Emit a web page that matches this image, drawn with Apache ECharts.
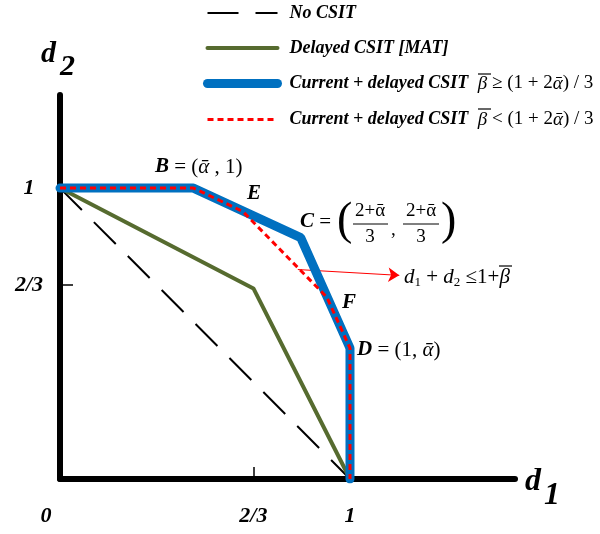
<!DOCTYPE html>
<html>
<head>
<meta charset="utf-8">
<script src="https://cdn.jsdelivr.net/npm/echarts@6/dist/echarts.min.js"></script>
<style>
  html, body { margin: 0; padding: 0; background: #fff; }
  #chart { width: 600px; height: 534px; }
</style>
</head>
<body>
<div id="chart"></div>
<script>
// regions (d1, d2)
var noCsit = [[0, 1], [1, 0]]
var delayedMat = [[0, 1], [0.667, 0.655], [1, 0]]
var currentHigh = [[0, 1], [0.46, 1], [0.83, 0.83], [1, 0.45], [1, 0]]
var currentLow = [[0, 1], [0.46, 1], [0.63, 0.92], [0.92, 0.625], [1, 0.45], [1, 0]]
var arrowCoords = [[0.82, 0.72], [1.17, 0.70]]

var xTicks = [0, 2 / 3, 1]
var xTickLabels = ['0', '2/3', '1']
var yTicks = [2 / 3, 1]
var yTickLabels = ['2/3', '1']

var seriesNames = [
  'No CSIT',
  'Delayed CSIT [MAT]',
  'Current + delayed CSIT β̄ ≥ (1+2ᾱ)/3',
  'Current + delayed CSIT β̄ < (1+2ᾱ)/3'
]

var FONT = 'Liberation Serif'

function tickLabel (values, labels, v) {
  for (var i = 0; i < values.length; i++) {
    if (Math.abs(values[i] - v) < 1e-6) return labels[i]
  }
  return ''
}

// rich styles shared by the annotations
var richMath = {
  b: { fontFamily: FONT, fontSize: 21, fontWeight: 'bold', fontStyle: 'italic', color: '#000' },
  r: { fontFamily: FONT, fontSize: 21, color: '#000' },
  g: { fontFamily: FONT, fontSize: 21, fontStyle: 'italic', color: '#000' },
  i: { fontFamily: FONT, fontSize: 21, fontStyle: 'italic', color: '#000' },
  s: { fontFamily: FONT, fontSize: 13, color: '#000', padding: [12, 0, 0, 0] }
}

function txt (x, y, text, extra) {
  var style = { x: x, y: y, text: text, rich: richMath, verticalAlign: 'middle', fill: '#000',
    fontFamily: FONT, fontSize: 20 }
  for (var k in extra) style[k] = extra[k]
  return { type: 'text', style: style, z: 100 }
}

// overline bar for beta (the combining macron does not render well)
function bar (x1, x2, y) {
  return { type: 'line', shape: { x1: x1, y1: y, x2: x2, y2: y }, style: { stroke: '#000', lineWidth: 1.2 }, z: 100 }
}

var chart = echarts.init(document.getElementById('chart'))

var option = {
  animation: false,
  backgroundColor: '#fff',
  grid: { left: 60, right: 85, top: 95, bottom: 55, containLabel: false, outerBoundsMode: 'none' },
  legend: {
    orient: 'vertical',
    left: 198,
    top: -1,
    itemWidth: 70,
    itemHeight: 20,
    itemGap: 17,
    selectedMode: false,
    itemStyle: { opacity: 0 },
    data: [
      { name: seriesNames[0], lineStyle: { width: 2 } },
      { name: seriesNames[1], lineStyle: { width: 4, cap: 'round' } },
      { name: seriesNames[2], lineStyle: { width: 9, cap: 'round' } },
      { name: seriesNames[3], lineStyle: { width: 3 } }
    ],
    formatter: function (name) {
      var i = seriesNames.indexOf(name)
      if (i === 0) return '{sp|}{b|No CSIT}'
      if (i === 1) return '{sp|}{b|Delayed CSIT [MAT]}'
      var rel = i === 2 ? ' ≥ ' : ' < '
      return '{sp|}{b|Current + delayed CSIT}{m|  }{g|β}{m|' + rel + '(1 + 2}{g|ᾱ}{m|) / 3}'
    },
    textStyle: {
      color: '#000',
      rich: {
        sp: { width: 7 },
        b: { fontFamily: FONT, fontSize: 18, fontWeight: 'bold', fontStyle: 'italic', color: '#000', lineHeight: 23 },
        m: { fontFamily: FONT, fontSize: 19, color: '#000', lineHeight: 23 },
        g: { fontFamily: FONT, fontSize: 19, fontStyle: 'italic', color: '#000', lineHeight: 23 }
      }
    }
  },
  xAxis: {
    type: 'value',
    min: 0,
    max: 1.569,
    splitLine: { show: false },
    axisLine: { show: true, lineStyle: { color: '#000', width: 6, cap: 'round' } },
    axisTick: { show: true, inside: true, length: 12, customValues: [2 / 3], lineStyle: { color: '#000', width: 1.5 } },
    axisLabel: {
      customValues: xTicks,
      margin: 26,
      formatter: function (v) {
        var s = tickLabel(xTicks, xTickLabels, v)
        return v === 0 ? '{z|' + s + '}' : '{t|' + s + '}'
      },
      rich: {
        t: { fontFamily: FONT, fontSize: 22, fontWeight: 'bold', fontStyle: 'italic', color: '#000' },
        z: { fontFamily: FONT, fontSize: 22, fontWeight: 'bold', fontStyle: 'italic', color: '#000', padding: [0, 28, 0, 0] }
      }
    }
  },
  yAxis: {
    type: 'value',
    min: 0,
    max: 1.32,
    splitLine: { show: false },
    axisLine: { show: true, lineStyle: { color: '#000', width: 6, cap: 'round' } },
    axisTick: { show: true, inside: true, length: 13, customValues: [2 / 3], lineStyle: { color: '#000', width: 1.5 } },
    axisLabel: {
      customValues: yTicks,
      margin: 31,
      align: 'center',
      formatter: function (v) { return tickLabel(yTicks, yTickLabels, v) },
      fontFamily: FONT,
      fontSize: 22,
      fontWeight: 'bold',
      fontStyle: 'italic',
      color: '#000',
      padding: [3, 0, 0, 0]
    }
  },
  series: [
    {
      name: seriesNames[0],
      type: 'line',
      data: noCsit,
      symbol: 'none',
      lineStyle: { color: '#000', width: 2, type: [31, 17] },
      itemStyle: { color: '#000' }
    },
    {
      name: seriesNames[1],
      type: 'line',
      data: delayedMat,
      symbol: 'none',
      lineStyle: { color: '#566b2f', width: 4 },
      itemStyle: { color: '#566b2f' }
    },
    {
      name: seriesNames[2],
      type: 'line',
      data: currentHigh,
      symbol: 'none',
      lineStyle: { color: '#0070c0', width: 9, cap: 'round' },
      itemStyle: { color: '#0070c0' }
    },
    {
      name: seriesNames[3],
      type: 'line',
      data: currentLow,
      symbol: 'none',
      lineStyle: { color: '#ff0000', width: 3, type: [6, 4] },
      itemStyle: { color: '#ff0000' }
    },
    {
      type: 'lines',
      coordinateSystem: 'cartesian2d',
      symbol: ['none', 'arrow'],
      symbolSize: 11,
      lineStyle: { color: '#ff0000', width: 1, opacity: 1 },
      data: [{ coords: arrowCoords }]
    }
  ],
  graphic: [
    // axis names
    txt(525, 466, 'd', { fontSize: 32, fontWeight: 'bold', fontStyle: 'italic', verticalAlign: 'top' }),
    txt(544, 480, '1', { fontSize: 32, fontWeight: 'bold', fontStyle: 'italic', verticalAlign: 'top' }),
    txt(41, 39, 'd', { fontSize: 30, fontWeight: 'bold', fontStyle: 'italic', verticalAlign: 'top' }),
    txt(60, 52, '2', { fontSize: 30, fontWeight: 'bold', fontStyle: 'italic', verticalAlign: 'top' }),
    // overlines on beta in the legend
    bar(478, 491, 74),
    bar(478, 491, 109),
    // point labels
    txt(155, 167, '{b|B}{r| = (}{g|ᾱ}{r| , 1)}'),
    txt(247, 194, '{b|E}'),
    txt(342, 303, '{b|F}'),
    txt(357, 350, '{b|D}{r| = (1, }{g|ᾱ}{r|)}'),
    txt(404, 277, '{i|d}{s|1}{r| + }{i|d}{s|2}{r| ≤1+}{g|β}'),
    bar(499, 512, 266),
    // C = ((2+a)/3, (2+a)/3)
    txt(300, 222, '{b|C}{r| =}'),
    txt(337, 222, '(', { fontSize: 46, scaleX: 0.7 }),
    txt(370, 211, '2+ᾱ', { align: 'center', fontSize: 19 }),
    { type: 'line', shape: { x1: 353, y1: 224, x2: 388, y2: 224 }, style: { stroke: '#000', lineWidth: 1 }, z: 100 },
    txt(370, 237, '3', { align: 'center', fontSize: 19 }),
    txt(391, 230, ',', { fontSize: 19 }),
    txt(421, 211, '2+ᾱ', { align: 'center', fontSize: 19 }),
    { type: 'line', shape: { x1: 403, y1: 224, x2: 439, y2: 224 }, style: { stroke: '#000', lineWidth: 1 }, z: 100 },
    txt(421, 237, '3', { align: 'center', fontSize: 19 }),
    txt(441, 222, ')', { fontSize: 46 })
  ]
}

chart.setOption(option)
</script>
</body>
</html>
